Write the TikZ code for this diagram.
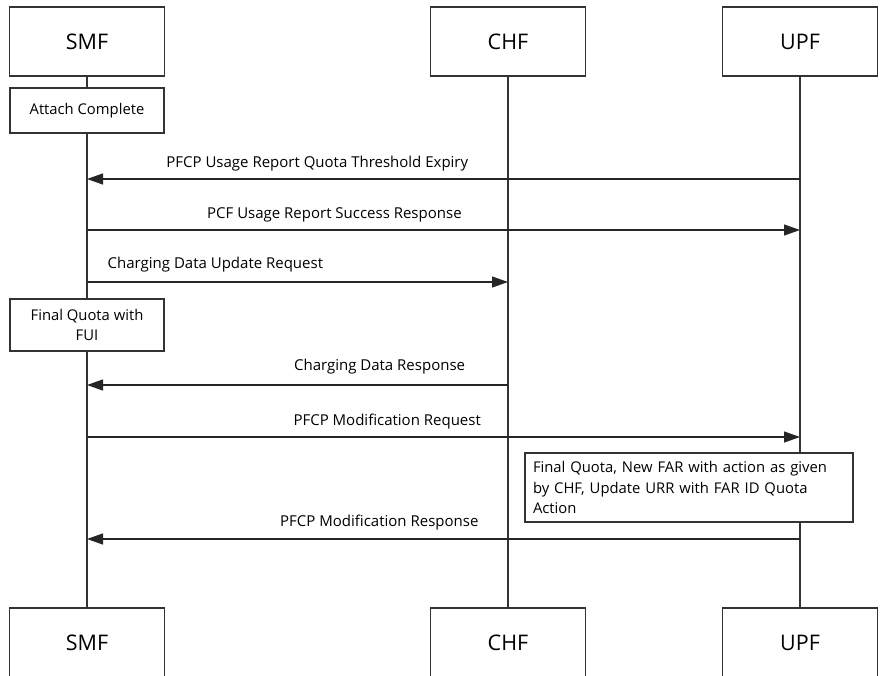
\documentclass[tikz,border=0pt]{standalone}
\usepackage{fontspec}
\setmainfont{Open Sans}
\usepackage{tikz}
\usetikzlibrary{positioning,calc,arrows.meta}
\usepackage{xcolor}

\tikzset{
  actor/.style={draw=black!80, line width=1.2pt, fill=white, minimum width=155pt, minimum height=69pt, font=\fontsize{21.5}{24}\selectfont},
  notebox/.style={draw=black!80, line width=1.2pt, fill=white, font=\fontsize{14.8}{20.5}\selectfont},
  life/.style={draw=black!80, line width=1.2pt},
  msg/.style={draw=black!85, line width=1.2pt, -{Triangle[length=16pt,width=11pt]}},
  lbl/.style={font=\fontsize{15}{18}\selectfont, yshift=15pt}
}

\begin{document}
\begin{tikzpicture}[x=1pt,y=-1pt]
\useasboundingbox (0,0) rectangle (891,675);
% actors
\node[actor] (smftop) at (87,41.5) {SMF};
\node[actor] (chftop) at (508,41.5) {CHF};
\node[actor] (upftop) at (800,41.5) {UPF};
\node[actor] (smfbot) at (87,642.5) {SMF};
\node[actor] (chfbot) at (508,642.5) {CHF};
\node[actor] (upfbot) at (800,642.5) {UPF};
% lifelines
\draw[life] (smftop) -- (smfbot);
\draw[life] (chftop) -- (chfbot);
\draw[life] (upftop) -- (upfbot);
% notes
\node[notebox, minimum width=154pt, minimum height=45pt] (attach) at (87,110.5) {Attach Complete};
\node[notebox, minimum width=154pt, minimum height=52pt, align=center] (finalq) at (87,325) {Final Quota with\\FUI};
\node[notebox, minimum width=328pt, minimum height=69pt, text width=312pt, align=left] (farnote) at (689,487.5) {Final Quota, New FAR with action as given\\by CHF, Update URR with FAR ID Quota\\Action};
% message points
\coordinate (smf1) at (smftop |- 0,179);
\coordinate (upf1) at (upftop |- 0,179);
\coordinate (smf2) at (smftop |- 0,230);
\coordinate (upf2) at (upftop |- 0,230);
\coordinate (smf3) at (smftop |- 0,282);
\coordinate (chf3) at (chftop |- 0,282);
\coordinate (smf4) at (smftop |- 0,385);
\coordinate (chf4) at (chftop |- 0,385);
\coordinate (smf5) at (smftop |- 0,437);
\coordinate (upf5) at (upftop |- 0,437);
\coordinate (smf6) at (smftop |- 0,539);
\coordinate (upf6) at (upftop |- 0,539);
% messages
\draw[msg] (upf1) -- (smf1) node[lbl, pos=.677] {PFCP Usage Report Quota Threshold Expiry};
\draw[msg] (smf2) -- (upf2) node[lbl, pos=.347] {PCF Usage Report Success Response};
\draw[msg] (smf3) -- (chf3) node[lbl, pos=.305, yshift=2pt] {Charging Data Update Request};
\draw[msg] (chf4) -- (smf4) node[lbl, pos=.305, yshift=3pt] {Charging Data Response};
\draw[msg] (smf5) -- (upf5) node[lbl, pos=.421] {PFCP Modification Request};
\draw[msg] (upf6) -- (smf6) node[lbl, pos=.59, yshift=1pt] {PFCP Modification Response};
\end{tikzpicture}
\end{document}
